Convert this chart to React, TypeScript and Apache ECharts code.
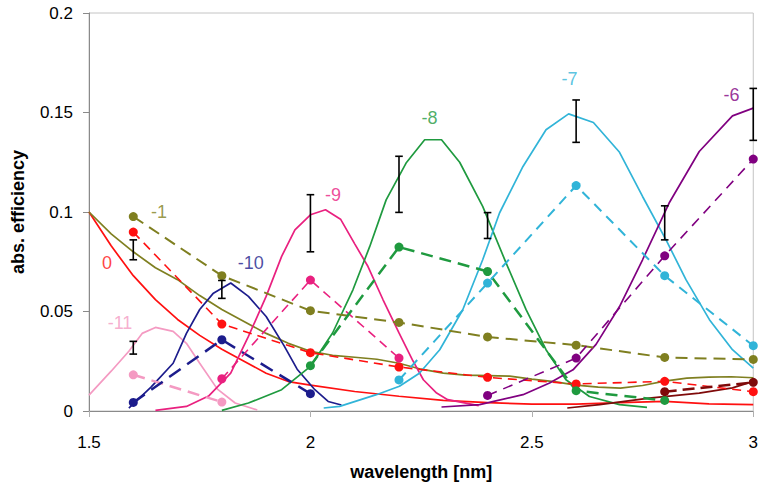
import React, { useEffect, useRef } from "react";
import * as echarts from "echarts";

// ---------- data ----------
const FONT = "'Liberation Sans', Arial, sans-serif";

// measured (dashed, with dots) series: wavelength and efficiency
const olDashX = [1.6, 1.8, 2.0, 2.2, 2.4, 2.6, 2.8, 3.0];
const olDashY = [0.0977, 0.068, 0.0504, 0.0445, 0.0372, 0.0331, 0.0269, 0.0259];
const redDashX = [1.6, 1.8, 2.0, 2.2, 2.4, 2.6, 2.8, 3.0];
const redDashY = [0.0899, 0.0437, 0.0293, 0.0221, 0.0169, 0.0136, 0.0149, 0.0097];
const pinkDashX = [1.6, 1.8];
const pinkDashY = [0.0182, 0.0045];
const navyDashX = [1.6, 1.8, 2.0];
const navyDashY = [0.0043, 0.0358, 0.0087];
const magDashX = [1.8, 2.0, 2.2];
const magDashY = [0.0162, 0.0658, 0.0266];
const grnDashX = [2.0, 2.2, 2.4, 2.6, 2.8];
const grnDashY = [0.0228, 0.0824, 0.0701, 0.0102, 0.0053];
const cyanDashX = [2.2, 2.4, 2.6, 2.8, 3.0];
const cyanDashY = [0.0156, 0.0643, 0.1133, 0.068, 0.0328];
const purDashX = [2.4, 2.6, 2.8, 3.0];
const purDashY = [0.0078, 0.0266, 0.078, 0.1266];
const marDashX = [2.8, 3.0];
const marDashY = [0.0097, 0.0144];

// calculated (solid) curves
const redSolX = [1.5, 1.55, 1.6, 1.65, 1.7, 1.75, 1.8, 1.85, 1.9, 1.95, 2.0, 2.1, 2.2, 2.3, 2.4, 2.5, 2.6, 2.7, 2.8, 2.9, 3.0];
const redSolY = [0.1, 0.083, 0.068, 0.056, 0.046, 0.038, 0.031, 0.025, 0.019, 0.0148, 0.013, 0.0098, 0.0074, 0.0053, 0.0042, 0.0035, 0.0035, 0.0042, 0.0048, 0.0036, 0.0032];
const olSolX = [1.5, 1.55, 1.6, 1.65, 1.7, 1.75, 1.8, 1.85, 1.9, 1.95, 2.0, 2.05, 2.1, 2.15, 2.2, 2.25, 2.3, 2.35, 2.4, 2.45, 2.5, 2.55, 2.6, 2.65, 2.7, 2.75, 2.8, 2.85, 2.9, 2.95, 3.0];
const olSolY = [0.1, 0.089, 0.08, 0.072, 0.066, 0.058, 0.051, 0.045, 0.039, 0.034, 0.03, 0.028, 0.027, 0.026, 0.024, 0.021, 0.019, 0.018, 0.0178, 0.0175, 0.016, 0.0148, 0.013, 0.012, 0.0115, 0.0128, 0.015, 0.0165, 0.017, 0.0172, 0.0167];
const pinkSolX = [1.5, 1.55, 1.59, 1.62, 1.65, 1.69, 1.72, 1.75, 1.79, 1.83, 1.88];
const pinkSolY = [0.008, 0.02, 0.03, 0.039, 0.042, 0.04, 0.034, 0.024, 0.011, 0.004, 0.0005];
const navySolX = [1.59, 1.64, 1.69, 1.72, 1.75, 1.78, 1.82, 1.86, 1.9, 1.94, 1.97, 2.01, 2.04, 2.07];
const navySolY = [0.0015, 0.012, 0.024, 0.039, 0.051, 0.059, 0.0643, 0.0576, 0.0475, 0.033, 0.021, 0.0107, 0.0048, 0.003];
const magSolX = [1.65, 1.72, 1.77, 1.82, 1.86, 1.9, 1.935, 1.965, 2.0, 2.034, 2.068, 2.1, 2.13, 2.164, 2.2, 2.23, 2.255, 2.285, 2.31, 2.38];
const magSolY = [0.0003, 0.0023, 0.0075, 0.019, 0.0375, 0.0576, 0.0777, 0.091, 0.0986, 0.1011, 0.0964, 0.084, 0.0726, 0.0559, 0.0392, 0.0258, 0.0157, 0.009, 0.0057, 0.0027];
const grnSolX = [1.8, 1.86, 1.935, 2.0, 2.05, 2.096, 2.134, 2.171, 2.216, 2.258, 2.296, 2.337, 2.389, 2.442, 2.487, 2.532, 2.577, 2.63, 2.698, 2.76];
const grnSolY = [0.0003, 0.004, 0.0107, 0.0224, 0.0392, 0.0609, 0.0827, 0.1061, 0.1246, 0.1363, 0.1363, 0.125, 0.1028, 0.0743, 0.0509, 0.0308, 0.0157, 0.0073, 0.0032, 0.0018];
const cyanSolX = [2.03, 2.066, 2.149, 2.201, 2.246, 2.292, 2.344, 2.389, 2.427, 2.48, 2.532, 2.583, 2.639, 2.698, 2.75, 2.803, 2.848, 2.901, 2.953, 3.0];
const cyanSolY = [0.0015, 0.0023, 0.0082, 0.0124, 0.019, 0.0308, 0.0509, 0.076, 0.0995, 0.1229, 0.1413, 0.1493, 0.145, 0.13, 0.1078, 0.086, 0.066, 0.0459, 0.0308, 0.0216];
const purSolX = [2.296, 2.382, 2.48, 2.54, 2.593, 2.645, 2.698, 2.75, 2.81, 2.878, 2.953, 3.0];
const purSolY = [0.002, 0.0032, 0.0082, 0.0141, 0.0207, 0.0335, 0.0525, 0.076, 0.1045, 0.1304, 0.1483, 0.1522];
const marSolX = [2.58, 2.653, 2.765, 2.878, 2.953, 3.0];
const marSolY = [0.0015, 0.0032, 0.0065, 0.009, 0.0116, 0.0149];

// error bars
const errX = [1.6, 1.6, 1.8, 2.0, 2.2, 2.4, 2.6, 2.8, 3.0];
const errLow = [0.076, 0.0286, 0.0566, 0.08, 0.0998, 0.0867, 0.135, 0.086, 0.136];
const errHigh = [0.086, 0.035, 0.0656, 0.1087, 0.128, 0.0997, 0.1563, 0.1031, 0.1621];

// order labels
const orderText = ["-1", "0", "-11", "-10", "-9", "-8", "-7", "-6"];
const orderX = [1.658, 1.5406, 1.57, 1.8654, 2.051, 2.269, 2.585, 2.951];
const orderY = [0.1001, 0.0745, 0.0443, 0.0745, 0.1086, 0.1472, 0.1668, 0.1589];

// axis
const xTicks = { min: 1.5, max: 3, interval: 0.5 };
const yTicks = { min: 0, max: 0.2, interval: 0.05 };

// colours
const C = {
  olive: "#7f7f20",
  red: "#ff1010",
  pink: "#f49ac2",
  navy: "#1c1c8c",
  mag: "#e9207f",
  green: "#1f9a3f",
  cyan: "#31b4d8",
  purple: "#800080",
  maroon: "#7f0a0a",
};
const orderColors = [C.olive, C.red, C.pink, C.navy, C.mag, C.green, C.cyan, C.purple];

const zip = (xs: number[], ys: number[]) => xs.map((x, i) => [x, ys[i]]);

function solid(name: string, xs: number[], ys: number[], color: string, width = 1.7) {
  return {
    name,
    type: "line",
    data: zip(xs, ys),
    showSymbol: false,
    symbol: "none",
    smooth: false,
    clip: false,
    lineStyle: { color, width },
    z: 2,
  };
}

function dashed(name: string, xs: number[], ys: number[], color: string, width: number, dash: number[]) {
  return {
    name,
    type: "line",
    data: zip(xs, ys),
    symbol: "circle",
    symbolSize: 9,
    showSymbol: true,
    clip: false,
    itemStyle: { color, borderWidth: 0 },
    lineStyle: { color, width, type: dash },
    z: 3,
  };
}

export default function App() {
  const ref = useRef<HTMLDivElement>(null);
  useEffect(() => {
    if (!ref.current) return;
    const chart = echarts.init(ref.current, null, { renderer: "svg" });
    const option: any = {
      animation: false,
      backgroundColor: "#ffffff",
      textStyle: { fontFamily: FONT },
      grid: {
        left: 89,
        right: 6,
        top: 13,
        bottom: 75,
        show: true,
        borderColor: "#c4c4c4",
        borderWidth: 1,
        containLabel: false,
      },
      xAxis: {
        type: "value",
        min: xTicks.min,
        max: xTicks.max,
        interval: xTicks.interval,
        name: "wavelength [nm]",
        nameLocation: "middle",
        nameGap: 52,
        nameTextStyle: { fontFamily: FONT, fontSize: 18, fontWeight: "bold", color: "#000" },
        axisLine: { show: true, lineStyle: { color: "#8a8a8a", width: 1 } },
        axisTick: { show: true, length: 6, lineStyle: { color: "#b0b0b0" } },
        axisLabel: { fontFamily: FONT, fontSize: 17, color: "#000", margin: 23 },
        splitLine: { show: false },
      },
      yAxis: {
        type: "value",
        min: yTicks.min,
        max: yTicks.max,
        interval: yTicks.interval,
        name: "abs. efficiency",
        nameLocation: "middle",
        nameRotate: 90,
        nameGap: 62,
        nameTextStyle: { fontFamily: FONT, fontSize: 18, fontWeight: "bold", color: "#000" },
        axisLine: { show: true, lineStyle: { color: "#8a8a8a", width: 1 } },
        axisTick: { show: true, length: 6, lineStyle: { color: "#8a8a8a" } },
        axisLabel: { fontFamily: FONT, fontSize: 17, color: "#000", margin: 16 },
        splitLine: { show: false },
      },
      series: [
        solid("0 calc", redSolX, redSolY, C.red),
        solid("-1 calc", olSolX, olSolY, C.olive),
        solid("-11 calc", pinkSolX, pinkSolY, C.pink),
        solid("-10 calc", navySolX, navySolY, C.navy),
        solid("-9 calc", magSolX, magSolY, C.mag),
        solid("-8 calc", grnSolX, grnSolY, C.green),
        solid("-7 calc", cyanSolX, cyanSolY, C.cyan),
        solid("-6 calc", purSolX, purSolY, C.purple),
        solid("-5 calc", marSolX, marSolY, C.maroon),
        dashed("-1 meas", olDashX, olDashY, C.olive, 2, [12, 7]),
        dashed("0 meas", redDashX, redDashY, C.red, 1.6, [9, 6]),
        dashed("-11 meas", pinkDashX, pinkDashY, C.pink, 2.5, [12, 7]),
        dashed("-10 meas", navyDashX, navyDashY, C.navy, 2.5, [14, 8]),
        dashed("-9 meas", magDashX, magDashY, C.mag, 1.6, [9, 6]),
        dashed("-8 meas", grnDashX, grnDashY, C.green, 2.5, [12, 7]),
        dashed("-7 meas", cyanDashX, cyanDashY, C.cyan, 2, [10, 7]),
        dashed("-6 meas", purDashX, purDashY, C.purple, 1.6, [10, 7]),
        dashed("-5 meas", marDashX, marDashY, C.maroon, 2.5, [12, 6]),
        {
          name: "error",
          type: "custom",
          clip: false,
          z: 5,
          data: errX.map((x, i) => [x, errLow[i], errHigh[i]]),
          encode: { x: 0, y: [1, 2] },
          renderItem: (_params: any, api: any) => {
            const x = api.value(0);
            const lo = api.coord([x, api.value(1)]);
            const hi = api.coord([x, api.value(2)]);
            const hw = 3.8;
            const st = { stroke: "#000", lineWidth: 1.6 };
            return {
              type: "group",
              children: [
                { type: "line", shape: { x1: lo[0], y1: lo[1], x2: hi[0], y2: hi[1] }, style: st },
                { type: "line", shape: { x1: lo[0] - hw, y1: lo[1], x2: lo[0] + hw, y2: lo[1] }, style: st },
                { type: "line", shape: { x1: hi[0] - hw, y1: hi[1], x2: hi[0] + hw, y2: hi[1] }, style: st },
              ],
            };
          },
        },
        {
          name: "orders",
          type: "scatter",
          symbolSize: 1,
          clip: false,
          z: 6,
          itemStyle: { color: "rgba(0,0,0,0)" },
          data: orderText.map((t, i) => ({
            value: [orderX[i], orderY[i]],
            label: {
              show: true,
              position: "inside",
              formatter: t,
              color: orderColors[i],
              fontSize: 18,
              fontFamily: FONT,
            },
          })),
        },
      ],
    };
    chart.setOption(option);
    return () => chart.dispose();
  }, []);
  return (
    <div
      ref={ref}
      style={{ position: "absolute", left: 0, top: 0, width: 761, height: 486, background: "#fff" }}
    />
  );
}
